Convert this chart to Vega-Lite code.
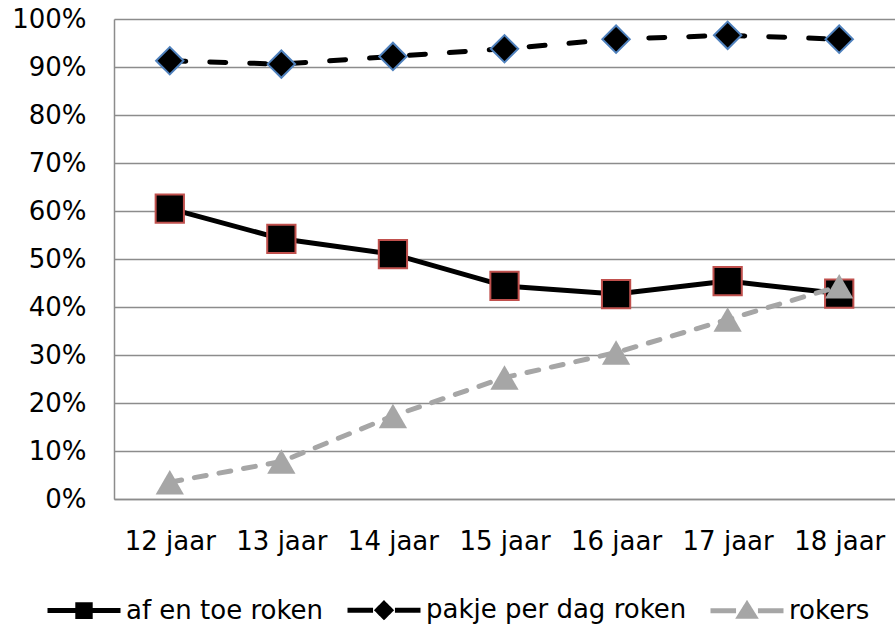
{
  "$schema": "https://vega.github.io/schema/vega-lite/v6.json",
  "width": 781,
  "height": 480,
  "autosize": {"type": "none"},
  "padding": {"left": 114, "top": 19, "right": 0, "bottom": 126},
  "background": "white",
  "config": {
    "font": "DejaVu Sans",
    "view": {"stroke": null}
  },
  "data": {
    "values": [
      {"leeftijd": "12 jaar", "reeks": "af en toe roken", "waarde": 0.605},
      {"leeftijd": "13 jaar", "reeks": "af en toe roken", "waarde": 0.542},
      {"leeftijd": "14 jaar", "reeks": "af en toe roken", "waarde": 0.510},
      {"leeftijd": "15 jaar", "reeks": "af en toe roken", "waarde": 0.444},
      {"leeftijd": "16 jaar", "reeks": "af en toe roken", "waarde": 0.427},
      {"leeftijd": "17 jaar", "reeks": "af en toe roken", "waarde": 0.454},
      {"leeftijd": "18 jaar", "reeks": "af en toe roken", "waarde": 0.428},
      {"leeftijd": "12 jaar", "reeks": "pakje per dag roken", "waarde": 0.913},
      {"leeftijd": "13 jaar", "reeks": "pakje per dag roken", "waarde": 0.906},
      {"leeftijd": "14 jaar", "reeks": "pakje per dag roken", "waarde": 0.922},
      {"leeftijd": "15 jaar", "reeks": "pakje per dag roken", "waarde": 0.938},
      {"leeftijd": "16 jaar", "reeks": "pakje per dag roken", "waarde": 0.958},
      {"leeftijd": "17 jaar", "reeks": "pakje per dag roken", "waarde": 0.966},
      {"leeftijd": "18 jaar", "reeks": "pakje per dag roken", "waarde": 0.958},
      {"leeftijd": "12 jaar", "reeks": "rokers", "waarde": 0.035},
      {"leeftijd": "13 jaar", "reeks": "rokers", "waarde": 0.078},
      {"leeftijd": "14 jaar", "reeks": "rokers", "waarde": 0.173},
      {"leeftijd": "15 jaar", "reeks": "rokers", "waarde": 0.253},
      {"leeftijd": "16 jaar", "reeks": "rokers", "waarde": 0.305},
      {"leeftijd": "17 jaar", "reeks": "rokers", "waarde": 0.374},
      {"leeftijd": "18 jaar", "reeks": "rokers", "waarde": 0.443}
    ]
  },
  "encoding": {
    "x": {
      "field": "leeftijd", "type": "nominal", "sort": null,
      "scale": {"paddingInner": 0, "paddingOuter": 0},
      "axis": {
        "title": null, "labelAngle": 0, "labelFontSize": 26, "labelColor": "black",
        "labelPadding": 29, "ticks": false, "domainColor": "#8c8c8c", "domainWidth": 1.5,
        "grid": false
      }
    },
    "y": {
      "field": "waarde", "type": "quantitative",
      "scale": {"domain": [0, 1], "nice": false},
      "axis": {
        "title": null, "format": ".0%", "values": [0,0.1,0.2,0.3,0.4,0.5,0.6,0.7,0.8,0.9,1],
        "labelOverlap": false, "labelFlush": false,
        "labelFontSize": 26, "labelColor": "black", "labelPadding": 28, "ticks": false,
        "domainColor": "#8c8c8c", "domainWidth": 1.5,
        "grid": true, "gridColor": "#8c8c8c", "gridWidth": 1.5
      }
    }
  },
  "layer": [
    {
      "transform": [{"filter": "datum.reeks === 'af en toe roken'"}],
      "mark": {"type": "line", "strokeWidth": 5, "strokeCap": "round", "strokeJoin": "round"},
      "encoding": {
        "color": {
          "field": "reeks", "type": "nominal",
          "scale": {"domain": ["af en toe roken", "pakje per dag roken", "rokers"], "range": ["#000000", "#000000", "#a6a6a6"]},
          "legend": {
            "orient": "none", "legendX": -69, "legendY": 552, "direction": "horizontal", "title": null,
            "labelFontSize": 26, "labelColor": "black", "labelOffset": 3, "labelLimit": 500,
            "symbolSize": 5329, "symbolStrokeWidth": 5, "columnPadding": 13,
            "encode": {
              "symbols": {
                "update": {
                  "shape": {"signal": "datum.value === 'af en toe roken' ? 'M-1,0H1M-0.17,-0.16H0.17V0.16H-0.17Z' : datum.value === 'pakje per dag roken' ? 'M-1,0H-0.3M0.3,0H1M-0.18,0L0,-0.18L0.18,0L0,0.18Z' : 'M-1,0H-0.3M0.3,0H1M-0.2,0.15L0,-0.17L0.2,0.15Z'"},
                  "fill": {"signal": "datum.value === 'rokers' ? '#a6a6a6' : '#000000'"},
                  "strokeDash": {"signal": "[1,0]"},
                  "strokeCap": {"value": "butt"}
                }
              }
            }
          }
        }
      }
    },
    {
      "transform": [{"filter": "datum.reeks === 'af en toe roken'"}],
      "mark": {"type": "point", "shape": "square", "filled": true, "size": 800, "fill": "#000000", "stroke": "#c0504d", "strokeWidth": 2, "opacity": 1}
    },
    {
      "transform": [{"filter": "datum.reeks === 'pakje per dag roken'"}],
      "mark": {"type": "line", "strokeWidth": 5, "strokeCap": "round", "strokeDash": [16, 24]},
      "encoding": {
        "color": {"field": "reeks", "type": "nominal"}
      }
    },
    {
      "transform": [{"filter": "datum.reeks === 'pakje per dag roken'"}],
      "mark": {"type": "point", "shape": "diamond", "filled": true, "size": 750, "fill": "#000000", "stroke": "#4f81bd", "strokeWidth": 2, "opacity": 1}
    },
    {
      "transform": [{"filter": "datum.reeks === 'rokers'"}],
      "mark": {"type": "line", "strokeWidth": 5, "strokeCap": "round", "strokeDash": [12, 13]},
      "encoding": {
        "color": {"field": "reeks", "type": "nominal"}
      }
    },
    {
      "transform": [{"filter": "datum.reeks === 'rokers'"}],
      "mark": {"type": "point", "shape": "triangle-up", "filled": true, "size": 800, "fill": "#a6a6a6", "stroke": null, "opacity": 1}
    }
  ]
}
